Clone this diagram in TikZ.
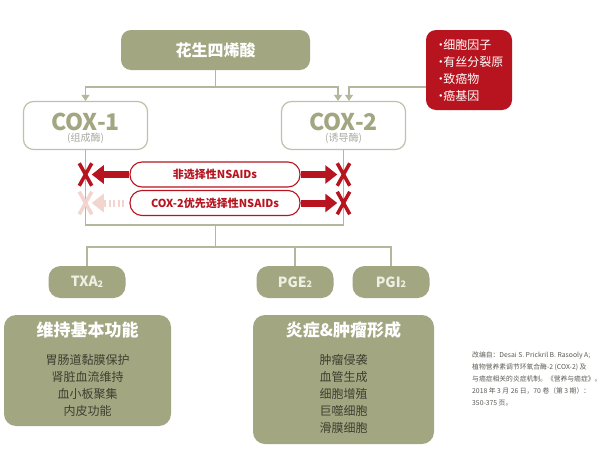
\documentclass[tikz,border=0pt]{standalone}
\usepackage{fontspec}
\setmainfont{Noto Sans CJK SC}
\usetikzlibrary{arrows.meta,shapes.misc}
\definecolor{leaf}{HTML}{A2A782}
\definecolor{wire}{HTML}{B4B79C}
\definecolor{coxedge}{HTML}{BFC2A8}
\definecolor{coxsub}{HTML}{A9AAA0}
\definecolor{nsred}{HTML}{B7141F}
\definecolor{fade}{HTML}{F3D5D0}
\definecolor{itemtext}{HTML}{3E3F30}
\definecolor{chemtext}{HTML}{EEF0E4}
\definecolor{citegray}{HTML}{5A5A55}
\newcommand\chemsub[1]{\raisebox{-0.5pt}{\fontsize{9}{9}\selectfont #1}}
\newcommand\dotitem{·\kern-3.5pt}

\begin{document}
\begin{tikzpicture}[x=1pt,y=-1pt,
  greenbox/.style={fill=leaf, rounded corners=10pt, inner sep=0pt},
  redbox/.style={fill=nsred, rounded corners=10pt, inner sep=0pt, text=white, align=left,
    minimum width=86pt, minimum height=80pt, font=\fontsize{12}{17}\selectfont},
  coxbox/.style={draw=coxedge, line width=1.2pt, fill=white, rounded corners=10pt,
    minimum width=124pt, minimum height=48pt},
  coxname/.style={text=leaf, font=\bfseries\fontsize{23}{23}\selectfont, inner sep=0pt},
  coxkind/.style={text=coxsub, font=\fontsize{10}{10}\selectfont, inner sep=0pt},
  pill/.style={draw=nsred, line width=1.1pt, fill=white, rounded corners=12pt,
    minimum width=170pt, minimum height=25pt, text=nsred, font=\bfseries\fontsize{11}{11}\selectfont},
  chem/.style={greenbox, rounded corners=12pt, minimum width=77pt, minimum height=32pt,
    text=chemtext, font=\bfseries\fontsize{14}{14}\selectfont},
  bigbox/.style={greenbox, rounded corners=12pt},
  bigtitle/.style={text=white, font=\bfseries\fontsize{17}{17}\selectfont, inner sep=0pt},
  items/.style={text=itemtext, align=center, font=\fontsize{12}{17}\selectfont, inner sep=0pt},
  link/.style={draw=wire, line width=1.1pt},
  tip/.style={-{Triangle[length=6pt,width=8pt]}},
  xmark/.style={cross out, draw=nsred, line width=3.5pt, minimum width=9pt, minimum height=19pt, inner sep=0pt},
  nsarrow/.style={draw=nsred, line width=7pt, -{Triangle[length=12pt,width=18pt]}},
  fadearrow/.style={draw=fade, line width=7pt, dash pattern=on 2pt off 2.5pt, -{Triangle[length=12pt,width=18pt]}}]
\useasboundingbox[fill=white] (0,0) rectangle (600,450);

\node[greenbox, minimum width=189pt, minimum height=40pt, text=white,
  font=\bfseries\fontsize{16}{16}\selectfont] (acid) at (215.5,50) {花生四烯酸};
\node[redbox] (factors) at (469,70) {\dotitem 细胞因子\\\dotitem 有丝分裂原\\\dotitem 致癌物\\\dotitem 癌基因};

\node[coxbox] (cox1) at (85.5,125.5) {};
\node[coxname] (cox1name) at ([yshift=4pt]cox1.center) {COX-1};
\node[coxkind] (cox1kind) at ([yshift=-12.5pt]cox1.center) {(组成酶)};
\node[coxbox] (cox2) at (343.5,125.5) {};
\node[coxname] (cox2name) at ([yshift=4pt]cox2.center) {COX-2};
\node[coxkind] (cox2kind) at ([yshift=-12.5pt]cox2.center) {(诱导酶)};

\node[pill] (ns1) at (215,174.5) {非选择性NSAIDs};
\node[pill] (ns2) at (215,203) {COX-2优先选择性NSAIDs};

\node[chem] (txa) at (87,282) {TXA\chemsub{2}};
\node[chem] (pge) at (295,282) {PGE\chemsub{2}};
\node[chem] (pgi) at (391,282) {PGI\chemsub{2}};

\coordinate (split) at (215.5,87);
\coordinate (merge) at (215.5,225);
\coordinate (fork) at (215.5,247);
\draw[link] (acid.south) -- (split);
\draw[link,tip] (split) -| (cox1.north);
\draw[link,tip] (split) -| ([xshift=-5.5pt]cox2.north);
\draw[link,tip] (factors.west |- split) -| ([xshift=5.5pt]cox2.north);
\draw[link] (cox1.south) |- (merge) -| (cox2.south);
\draw[link] (merge) -- (fork);
\draw[link] (txa.north) |- (fork) -| (pgi.north);
\draw[link] (pge.north) -- (pge.north |- fork);

\node[xmark] (x1l) at (cox1.south |- ns1) {};
\node[xmark] (x1r) at (cox2.south |- ns1) {};
\node[xmark, draw=fade] (x2l) at (cox1.south |- ns2) {};
\node[xmark] (x2r) at (cox2.south |- ns2) {};
\draw[nsarrow] (ns1.west) -- (x1l.east);
\draw[nsarrow] (ns1.east) -- (x1r.west);
\draw[fadearrow] ([xshift=-5pt]ns2.west) -- (x2l.east);
\draw[nsarrow] (ns2.east) -- (x2r.west);

\node[bigbox, minimum width=167pt, minimum height=111pt] (basic) at (87.5,370.5) {};
\node[bigtitle] (basictitle) at (87.5,330) {维持基本功能};
\node[items] (basiclist) at (87.5,385) {胃肠道黏膜保护\\肾脏血流维持\\血小板聚集\\内皮功能};
\node[bigbox, minimum width=181pt, minimum height=129pt] (inflam) at (343.5,379.5) {};
\node[bigtitle] (inflamtitle) at (343.5,330) {炎症\&肿瘤形成};
\node[items] (inflamlist) at (343.5,393.5) {肿瘤侵袭\\血管生成\\细胞增殖\\巨噬细胞\\滑膜细胞};

\node[anchor=north west, align=left, inner sep=0pt, text=citegray,
  font=\fontsize{6.8}{12}\selectfont] (cite) at (472,352)
  {改编自：Desai S. Prickril B. Rasooly A;\\植物营养素调节环氧合酶-2 (COX-2) 及\\与癌症相关的炎症机制。《营养与癌症》。\\2018 年 3 月 26 日，70 卷（第 3 期）：\\350-375 页。};
\end{tikzpicture}
\end{document}
